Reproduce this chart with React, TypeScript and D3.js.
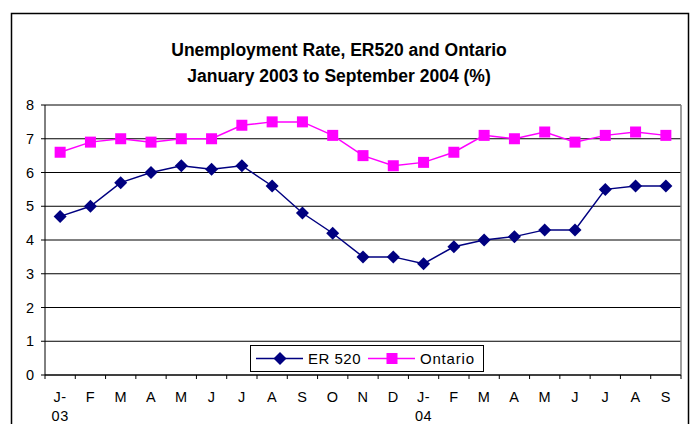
import React from "react";
import * as d3 from "d3";

const categories = ["J-|03", "F", "M", "A", "M", "J", "J", "A", "S", "O", "N", "D", "J-|04", "F", "M", "A", "M", "J", "J", "A", "S"];
const er520 = [4.7, 5.0, 5.7, 6.0, 6.2, 6.1, 6.2, 5.6, 4.8, 4.2, 3.5, 3.5, 3.3, 3.8, 4.0, 4.1, 4.3, 4.3, 5.5, 5.6, 5.6];
const ontario = [6.6, 6.9, 7.0, 6.9, 7.0, 7.0, 7.4, 7.5, 7.5, 7.1, 6.5, 6.2, 6.3, 6.6, 7.1, 7.0, 7.2, 6.9, 7.1, 7.2, 7.1];
const yTicks = [0, 1, 2, 3, 4, 5, 6, 7, 8];
const titleLines = ["Unemployment Rate, ER520 and Ontario", "January 2003 to September 2004 (%)"];
const seriesNames = ["ER 520", "Ontario"];

const W = 690;
const H = 424;
const plot = { left: 45, right: 681, top: 105, bottom: 375 };
const FONT = "'Liberation Sans', Arial, sans-serif";
const ER_COLOR = "#000080";
const ON_COLOR = "#FF00FF";
const LABEL_SIZE = 14.5;

export default function App() {
  const idx = categories.map((_, i) => i);
  const x = d3.scaleBand<number>().domain(idx).range([plot.left, plot.right]).padding(0);
  const y = d3.scaleLinear().domain([0, 8]).range([plot.bottom, plot.top]);
  const cx = (i: number) => (x(i) as number) + x.bandwidth() / 2;
  const line = d3.line<number>().x((_, i) => cx(i)).y((d) => y(d));
  const diamond = (px: number, py: number, r: number) =>
    `M${px},${py - r}L${px + r},${py}L${px},${py + r}L${px - r},${py}Z`;

  const legend = { x: 250, y: 345, w: 233, h: 26 };
  const ly = legend.y + legend.h / 2 + 0.5;

  return (
    <svg width={W} height={H} style={{ position: "absolute", left: 0, top: 0, background: "#fff" }} fontFamily={FONT}>
      <rect x={0} y={0} width={W} height={H} fill="#fff" />
      <rect x={11.5} y={13.5} width={677} height={430} fill="#fff" stroke="#000" strokeWidth={1.5} />
      {titleLines.map((t, i) => (
        <text key={i} x={339} y={56 + i * 26} textAnchor="middle" fontSize={17.5} fontWeight="bold" fill="#000">
          {t}
        </text>
      ))}
      {/* gridlines */}
      {yTicks.map((t) => (
        <line key={"g" + t} x1={plot.left} x2={plot.right} y1={y(t)} y2={y(t)} stroke="#000" strokeWidth={1} />
      ))}
      {/* plot border top/right */}
      <line x1={plot.left} x2={plot.right} y1={plot.top} y2={plot.top} stroke="#808080" strokeWidth={1.2} />
      <line x1={plot.right} x2={plot.right} y1={plot.top} y2={plot.bottom} stroke="#808080" strokeWidth={1.5} />
      {/* y axis */}
      <line x1={plot.left} x2={plot.left} y1={plot.top} y2={plot.bottom} stroke="#000" strokeWidth={1} />
      {yTicks.map((t) => (
        <g key={"y" + t}>
          <line x1={plot.left - 4} x2={plot.left} y1={y(t)} y2={y(t)} stroke="#000" />
          <text x={34} y={y(t)} dy="0.35em" textAnchor="end" fontSize={LABEL_SIZE} fill="#000">
            {t}
          </text>
        </g>
      ))}
      {/* x axis */}
      <line x1={plot.left} x2={plot.right} y1={plot.bottom} y2={plot.bottom} stroke="#000" />
      {idx.concat([categories.length]).map((i) => {
        const px = i < categories.length ? (x(i) as number) : plot.right;
        return <line key={"xt" + i} x1={px} x2={px} y1={plot.bottom} y2={plot.bottom + 4} stroke="#000" />;
      })}
      {categories.map((c, i) => {
        const parts = c.split("|");
        return (
          <text key={"xl" + i} x={cx(i)} y={402} textAnchor="middle" fontSize={LABEL_SIZE} fill="#000" letterSpacing={0.5}>
            {parts.map((p, j) => (
              <tspan key={j} x={cx(i)} dy={j === 0 ? 0 : 19}>
                {p}
              </tspan>
            ))}
          </text>
        );
      })}
      {/* series */}
      <path d={line(ontario) || ""} fill="none" stroke={ON_COLOR} strokeWidth={1.5} />
      {ontario.map((v, i) => (
        <rect key={"o" + i} x={cx(i) - 5.5} y={y(v) - 5.5} width={11} height={11} fill={ON_COLOR} />
      ))}
      <path d={line(er520) || ""} fill="none" stroke={ER_COLOR} strokeWidth={1.5} />
      {er520.map((v, i) => (
        <path key={"e" + i} d={diamond(cx(i), y(v), 6.5)} fill={ER_COLOR} />
      ))}
      {/* legend */}
      <rect x={legend.x + 0.5} y={legend.y + 0.5} width={legend.w} height={legend.h} fill="#fff" stroke="#000" strokeWidth={1} />
      <line x1={256} x2={303} y1={ly} y2={ly} stroke={ER_COLOR} strokeWidth={1.5} />
      <path d={diamond(280, ly, 6.5)} fill={ER_COLOR} />
      <text x={308} y={ly} dy="0.36em" fontSize={15} fill="#000" letterSpacing={0.5}>
        {seriesNames[0]}
      </text>
      <line x1={368} x2={415} y1={ly} y2={ly} stroke={ON_COLOR} strokeWidth={1.5} />
      <rect x={392 - 5.5} y={ly - 5.5} width={11} height={11} fill={ON_COLOR} />
      <text x={420} y={ly} dy="0.36em" fontSize={15} fill="#000" letterSpacing={0.8}>
        {seriesNames[1]}
      </text>
    </svg>
  );
}
